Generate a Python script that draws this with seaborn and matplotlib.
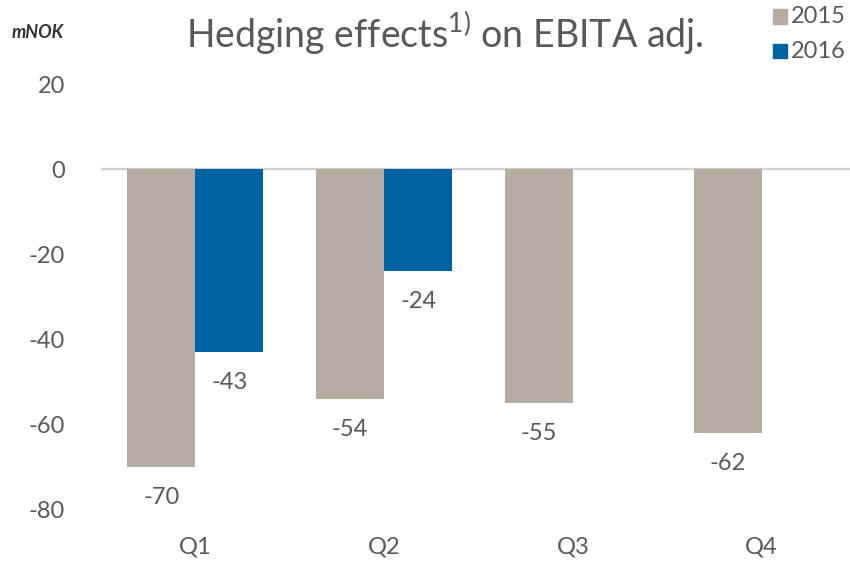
import numpy as np
import pandas as pd
import seaborn as sns
import matplotlib.pyplot as plt

#%% Data
quarters = ["Q1", "Q2", "Q3", "Q4"]
years = ["2015", "2016"]
vals_2015 = [-70, -54, -55, -62]
vals_2016 = [-43, -24, np.nan, np.nan]
y_ticks = [-80, -60, -40, -20, 0, 20]

df = pd.DataFrame({
    "quarter": quarters * 2,
    "year": ["2015"] * 4 + ["2016"] * 4,
    "value": vals_2015 + vals_2016})

#%% Style
sns.set_style("white")
plt.rcParams['font.family'] = ['Lato', 'DejaVu Sans']
txt = "#595959"
palette = {"2015": "#B5ADA4", "2016": "#0064A3"}

fig = plt.figure(figsize=(8.5, 5.62), dpi=100)
ax = fig.add_axes([0.1188, 0.0943, 0.8882, 0.7562])

sns.barplot(data=df, x="quarter", y="value", hue="year", hue_order=years,
            palette=palette, width=0.72, saturation=1, ax=ax, legend=False,
            errorbar=None, linewidth=0)

# data labels under each bar
for cont in ax.containers:
    for bar in cont:
        h = bar.get_height()
        if np.isnan(h):
            continue
        ax.annotate(f"{h:.0f}", (bar.get_x() + bar.get_width() / 2, h),
                    xytext=(0, -22), textcoords="offset points",
                    ha="center", va="center", fontsize=17, color=txt)

ax.axhline(0, color="#D0D0D0", lw=1.6, zorder=0)
ax.set_ylim(-80, 20)
ax.set_xlim(-0.5, 3.5)
ax.set_yticks(y_ticks)
ax.set_yticklabels([str(t) for t in y_ticks])
ax.set_xlabel("")
ax.set_ylabel("")
ax.tick_params(axis="y", length=0, pad=26, labelsize=17, labelcolor=txt)
ax.tick_params(axis="x", length=0, pad=20, labelsize=17, labelcolor=txt)
for s in ax.spines.values():
    s.set_visible(False)

#%% Title, unit, legend
fig.text(0.523, 0.94, "Hedging effects$^{\\mathregular{1)}}$ on EBITA adj.",
         ha="center", va="center", fontsize=27, color=txt)
fig.text(0.014, 0.942, "mNOK", ha="left", va="center", fontsize=13,
         color="#333333", style="italic", fontweight="bold")

for i, yr in enumerate(years):
    yy = 0.971 - i * 0.062
    fig.patches.append(plt.Rectangle((0.909, yy - 0.013), 0.017, 0.026,
                                     transform=fig.transFigure,
                                     color=palette[yr]))
    fig.text(0.93, yy, yr, ha="left", va="center", fontsize=17, color=txt)

plt.savefig("out.png", dpi=100)
